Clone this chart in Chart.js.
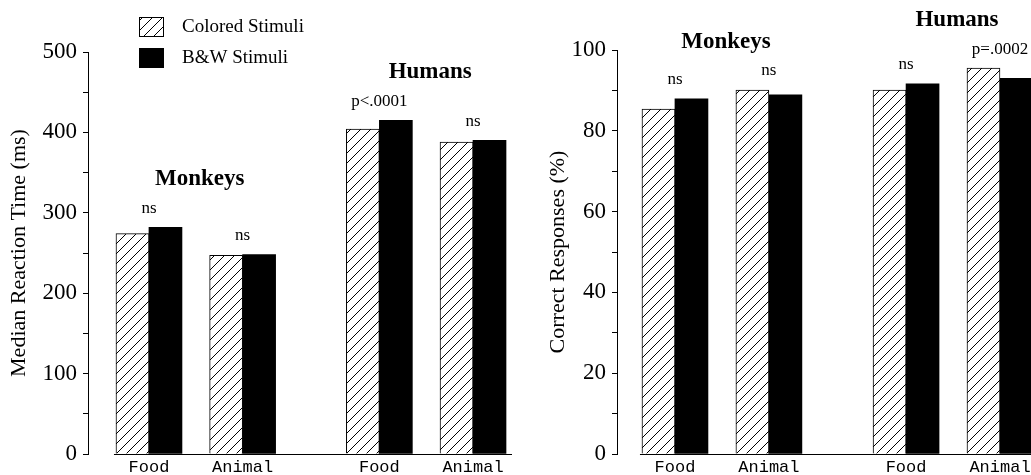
<!DOCTYPE html>
<html><head><meta charset="utf-8">
<script src="https://cdn.jsdelivr.net/npm/chart.js@4.4.0/dist/chart.umd.min.js"></script>
<style>
html,body{margin:0;padding:0;background:#fff;overflow:hidden;width:1031px;height:475px;}
#c1{position:absolute;left:0;top:0;}
#c2{position:absolute;left:520px;top:0;}
</style></head><body>
<canvas id="c1" width="520" height="475"></canvas>
<canvas id="c2" width="540" height="475"></canvas>
<script>
// ---- data ----
const categories = ['Food', 'Animal', 'Food', 'Animal'];
const groups = ['Monkeys', 'Humans'];
const seriesNames = ['Colored Stimuli', 'B&W Stimuli'];

const rtColored = [274, 247, 404, 388];
const rtBW      = [282, 248, 415, 390];
const rtSig     = ['ns', 'ns', 'p<.0001', 'ns'];
const rtTickLabels = [0, 100, 200, 300, 400, 500];

const accColored = [85.4, 90.1, 90.1, 95.5];
const accBW      = [87.9, 88.9, 91.6, 93.0];
const accSig     = ['ns', 'ns', 'ns', 'p=.0002'];
const accTickLabels = [0, 20, 40, 60, 80, 100];

// ---- layout helpers ----
const GROUP_STEP = 2.46;            // distance between groups, in category units
const perGroup = categories.length / groups.length;
const xPos = categories.map((c, k) => Math.floor(k / perGroup) * GROUP_STEP + (k % perGroup));

function makeHatch(canvas) {
  const s = 10;
  const t = document.createElement('canvas');
  t.width = s; t.height = s;
  const g = t.getContext('2d');
  g.fillStyle = '#fff'; g.fillRect(0, 0, s, s);
  g.strokeStyle = '#000'; g.lineWidth = 1;
  g.beginPath();
  g.moveTo(0, s); g.lineTo(s, 0);
  g.moveTo(-2, 2); g.lineTo(2, -2);
  g.moveTo(s - 2, s + 2); g.lineTo(s + 2, s - 2);
  g.stroke();
  return canvas.getContext('2d').createPattern(t, 'repeat');
}

const SERIF = "'Liberation Serif', 'DejaVu Serif', serif";
const TICKFONT = "'Liberation Serif', serif";
const MONO = "'Liberation Mono', 'DejaVu Sans Mono', monospace";

const annotPlugin = {
  id: 'annot',
  afterDatasetsDraw(chart, args, opts) {
    const ctx = chart.ctx;
    const m0 = chart.getDatasetMeta(0), m1 = chart.getDatasetMeta(1);
    const bottom = chart.chartArea.bottom;
    ctx.save();
    // baseline under the bars
    const first = m0.data[0], last = m1.data[m1.data.length - 1];
    ctx.strokeStyle = '#000'; ctx.lineWidth = 1;
    ctx.beginPath();
    ctx.moveTo(first.x - first.width / 2 - 2, bottom + 0.5);
    ctx.lineTo(last.x + last.width / 2 + 6, bottom + 0.5);
    ctx.stroke();
    // significance labels
    ctx.fillStyle = '#000';
    ctx.textAlign = 'center'; ctx.textBaseline = 'middle';
    ctx.font = '17px ' + SERIF;
    const centers = [], tops = [];
    m0.data.forEach((el, k) => {
      const el1 = m1.data[k];
      const cx = (el.x + el1.x) / 2;
      const top = Math.min(el.y, el1.y);
      centers.push(cx); tops.push(top);
      ctx.fillText(opts.sig[k], cx, top - 19);
    });
    // group titles
    ctx.font = 'bold 23px ' + SERIF;
    groups.forEach((gname, g) => {
      const idx = categories.map((c, k) => k).filter(k => Math.floor(k / perGroup) === g);
      const cx = idx.reduce((s, k) => s + centers[k], 0) / idx.length;
      const top = Math.min(...idx.map(k => tops[k]));
      ctx.fillText(gname, cx + 4, top - 48);
    });
    ctx.restore();
  },
  afterDraw(chart, args, opts) {
    if (!opts.legend) return;
    const ctx = chart.ctx;
    ctx.save();
    ctx.font = '19px ' + SERIF;
    ctx.textBaseline = 'middle'; ctx.textAlign = 'left';
    chart.data.datasets.forEach((ds, i) => {
      const bx = 139, by = 17 + i * 31, bw = 25, bh = 20;
      ctx.fillStyle = ds.backgroundColor;
      ctx.fillRect(bx, by, bw, bh);
      ctx.strokeStyle = '#000'; ctx.lineWidth = 1;
      ctx.strokeRect(bx + 0.5, by + 0.5, bw - 1, bh - 1);
      ctx.fillStyle = '#000';
      ctx.fillText(ds.label, 182, by + bh / 2);
    });
    ctx.restore();
  }
};

function makeChart(canvas, colored, bw, sig, tickLabels, yTitle, lay) {
  const hatch = makeHatch(canvas);
  const yMax = tickLabels[tickLabels.length - 1];
  return new Chart(canvas, {
    type: 'bar',
    data: {
      datasets: [
        { label: seriesNames[0], data: colored.map((v, k) => ({ x: xPos[k], y: v })),
          backgroundColor: hatch, borderColor: '#000', borderWidth: 1, barThickness: 33 },
        { label: seriesNames[1], data: bw.map((v, k) => ({ x: xPos[k], y: v })),
          backgroundColor: '#000', borderColor: '#000', borderWidth: 0, barThickness: 33 }
      ]
    },
    options: {
      responsive: false, animation: false,
      layout: { padding: { top: lay.top, right: lay.right, left: 0, bottom: 0 } },
      plugins: { legend: { display: false }, tooltip: { enabled: false },
                 annot: { sig: sig, legend: lay.legend } },
      scales: {
        x: {
          type: 'linear', min: lay.xMin, max: lay.xMax, offset: false,
          grid: { display: false }, border: { display: false },
          afterBuildTicks: s => { s.ticks = xPos.map(v => ({ value: v })); },
          afterFit: s => { s.height = 21; },
          ticks: { autoSkip: false, maxRotation: 0, padding: -5, color: '#000',
                   font: { family: MONO, size: 17 },
                   callback: v => categories[xPos.indexOf(v)] }
        },
        y: {
          min: 0, max: yMax,
          afterFit: s => { s.width = lay.yWidth; },
          ticks: { stepSize: yMax / 10, color: '#000', padding: 6,
                   font: { family: TICKFONT, size: 23 },
                   callback: v => tickLabels.includes(v) ? String(v) : '' },
          grid: { display: true, drawOnChartArea: false, drawTicks: true, tickLength: 5,
                  color: '#000', lineWidth: 1 },
          border: { display: true, color: '#000', width: 1 },
          title: { display: true, text: yTitle, color: '#000',
                   font: { family: SERIF, size: 22 },
                   padding: { top: lay.titlePad, bottom: 0 } }
        }
      }
    },
    plugins: [annotPlugin]
  });
}

makeChart(document.getElementById('c1'), rtColored, rtBW, rtSig, rtTickLabels,
  'Median Reaction Time (ms)',
  { top: 52, right: 7, yWidth: 88, xMin: -0.651, xMax: 3.887, titlePad: 6, legend: true });

makeChart(document.getElementById('c2'), accColored, accBW, accSig, accTickLabels,
  'Correct Responses (%)',
  { top: 50, right: 20, yWidth: 97, xMin: -0.617, xMax: 3.886, titlePad: 25, legend: false });
</script>
</body></html>
